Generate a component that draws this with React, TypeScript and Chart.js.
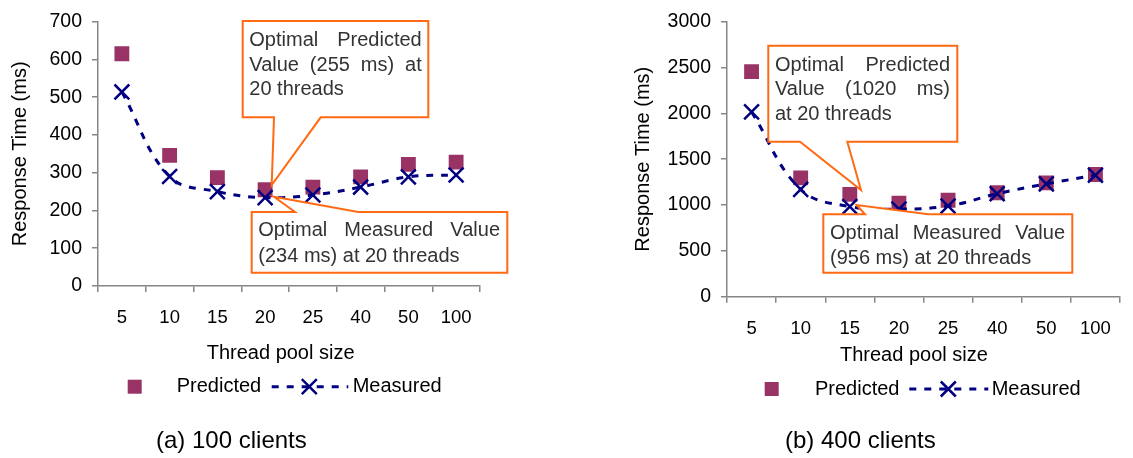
import React, { useEffect, useRef } from 'react';
import { Chart, registerables } from 'chart.js';

Chart.register(...registerables);

// ---------------- data ----------------
const categories = ['5', '10', '15', '20', '25', '40', '50', '100'];
const predicted100 = [615, 346, 287, 255, 262, 289, 322, 328];
const measured100 = [514, 290, 250, 234, 241, 262, 289, 294];
const predicted400 = [2456, 1296, 1117, 1020, 1052, 1134, 1242, 1333];
const measured400 = [2016, 1171, 983, 956, 990, 1123, 1231, 1325];
const yMax100 = 700;
const yStep100 = 100;
const yMax400 = 3000;
const yStep400 = 500;
const seriesNames = ['Predicted', 'Measured'];
const xTitle = 'Thread pool size';
const yTitle = 'Response Time (ms)';
const caption100 = '(a) 100 clients';
const caption400 = '(b) 400 clients';
const callout100Predicted = ['Optimal Predicted', 'Value (255 ms) at', '20 threads'];
const callout100Measured = ['Optimal Measured Value', '(234 ms) at 20 threads'];
const callout400Predicted = ['Optimal Predicted', 'Value (1020 ms)', 'at 20 threads'];
const callout400Measured = ['Optimal Measured Value', '(956 ms) at 20 threads'];

// ---------------- style ----------------
const FONT = '"Liberation Sans", Arial, Helvetica, sans-serif';
const PLUM = '#993366';
const NAVY = '#000080';
const ORANGE = '#FF6A13';
const AXIS = '#868686';
const W = 1133;
const H = 458;

type Callout = {
  lines: string[];
  box: [number, number, number, number];
  side: 'top' | 'bottom';
  base: [number, number];
  tip: [number, number];
  textLeft: number;
  textRight: number;
  lineY: number[];
};

type Panel = {
  offsetX: number;
  width: number;
  area: { left: number; right: number; top: number; bottom: number };
  yMax: number;
  yStep: number;
  predicted: number[];
  measured: number[];
  yTitleX: number;
  xTitleX: number;
  xTitleY: number;
  legend: { squareX: number; predX: number; dashL: number; dashR: number; crossX: number; measX: number; y: number };
  captionX: number;
  captionY: number;
  caption: string;
  callouts: Callout[];
};

const panels: Panel[] = [
  {
    offsetX: 0,
    width: 566,
    area: { left: 98, right: 480, top: 19, bottom: 286 },
    yMax: yMax100,
    yStep: yStep100,
    predicted: predicted100,
    measured: measured100,
    yTitleX: 20,
    xTitleX: 206.7,
    xTitleY: 353,
    legend: { squareX: 134.7, predX: 176.7, dashL: 271.7, dashR: 348.3, crossX: 309.3, measX: 352.7, y: 386.7 },
    captionX: 156,
    captionY: 441.7,
    caption: caption100,
    callouts: [
      {
        lines: callout100Predicted,
        box: [242.7, 21, 428.3, 117.3],
        side: 'bottom',
        base: [274, 320.7],
        tip: [271.7, 185],
        textLeft: 249.3,
        textRight: 421.7,
        lineY: [40, 65, 89.3],
      },
      {
        lines: callout100Measured,
        box: [251.7, 212, 507.3, 272.7],
        side: 'top',
        base: [295, 358.3],
        tip: [274, 196.7],
        textLeft: 258.3,
        textRight: 500,
        lineY: [230.7, 256],
      },
    ],
  },
  {
    offsetX: 566,
    width: 567,
    area: { left: 727, right: 1125, top: 19, bottom: 296.7 },
    yMax: yMax400,
    yStep: yStep400,
    predicted: predicted400,
    measured: measured400,
    yTitleX: 643.3,
    xTitleX: 840,
    xTitleY: 355.7,
    legend: { squareX: 771.7, predX: 815, dashL: 909.3, dashR: 988.3, crossX: 948.3, measX: 991.7, y: 389 },
    captionX: 785,
    captionY: 441.7,
    caption: caption400,
    callouts: [
      {
        lines: callout400Predicted,
        box: [768.3, 45.7, 957.3, 141.7],
        side: 'bottom',
        base: [800, 847.3],
        tip: [861, 190],
        textLeft: 775,
        textRight: 950,
        lineY: [65, 89.3, 114],
      },
      {
        lines: callout400Measured,
        box: [823.3, 214.3, 1072.3, 272.7],
        side: 'top',
        base: [865, 928.3],
        tip: [856.7, 205],
        textLeft: 830,
        textRight: 1065,
        lineY: [233.3, 258.3],
      },
    ],
  },
];

function drawCallout(ctx: CanvasRenderingContext2D, c: Callout, dx: number) {
  const [x1, y1, x2, y2] = [c.box[0] - dx, c.box[1], c.box[2] - dx, c.box[3]];
  const b1 = c.base[0] - dx;
  const b2 = c.base[1] - dx;
  const tx = c.tip[0] - dx;
  const ty = c.tip[1];
  ctx.save();
  ctx.beginPath();
  if (c.side === 'bottom') {
    ctx.moveTo(x1, y1);
    ctx.lineTo(x2, y1);
    ctx.lineTo(x2, y2);
    ctx.lineTo(b2, y2);
    ctx.lineTo(tx, ty);
    ctx.lineTo(b1, y2);
    ctx.lineTo(x1, y2);
  } else {
    ctx.moveTo(x1, y1);
    ctx.lineTo(b1, y1);
    ctx.lineTo(tx, ty);
    ctx.lineTo(b2, y1);
    ctx.lineTo(x2, y1);
    ctx.lineTo(x2, y2);
    ctx.lineTo(x1, y2);
  }
  ctx.closePath();
  ctx.fillStyle = '#ffffff';
  ctx.fill();
  ctx.strokeStyle = ORANGE;
  ctx.lineWidth = 2;
  ctx.lineJoin = 'miter';
  ctx.stroke();

  ctx.font = `20px ${FONT}`;
  ctx.fillStyle = '#333333';
  ctx.textBaseline = 'middle';
  ctx.textAlign = 'left';
  const left = c.textLeft - dx;
  const right = c.textRight - dx;
  c.lines.forEach((line, i) => {
    const y = c.lineY[i];
    const words = line.split(' ');
    const isLast = i === c.lines.length - 1;
    if (isLast || words.length < 2) {
      ctx.fillText(line, left, y);
      return;
    }
    const widths = words.map((w) => ctx.measureText(w).width);
    const total = widths.reduce((a, b) => a + b, 0);
    const gap = (right - left - total) / (words.length - 1);
    let x = left;
    words.forEach((w, k) => {
      ctx.fillText(w, x, y);
      x += widths[k] + gap;
    });
  });
  ctx.restore();
}

function makeOverlay(p: Panel) {
  return {
    id: 'overlay',
    afterDraw(chart: any) {
      const ctx: CanvasRenderingContext2D = chart.ctx;
      const dx = p.offsetX;
      p.callouts.forEach((c) => drawCallout(ctx, c, dx));

      ctx.save();
      ctx.fillStyle = '#000000';
      ctx.textBaseline = 'middle';
      ctx.textAlign = 'left';
      ctx.font = `20px ${FONT}`;
      ctx.fillText(xTitle, p.xTitleX - dx, p.xTitleY);

      // legend
      const L = p.legend;
      ctx.fillStyle = PLUM;
      ctx.fillRect(L.squareX - dx - 7, L.y - 7, 14, 14);
      ctx.fillStyle = '#000000';
      ctx.fillText(seriesNames[0], L.predX - dx, L.y);
      ctx.fillText(seriesNames[1], L.measX - dx, L.y);
      ctx.strokeStyle = NAVY;
      ctx.lineWidth = 3;
      ctx.setLineDash([7, 8]);
      ctx.beginPath();
      ctx.moveTo(L.dashL - dx, L.y);
      ctx.lineTo(L.dashR - dx, L.y);
      ctx.stroke();
      ctx.setLineDash([]);
      ctx.lineWidth = 2.5;
      const cx = L.crossX - dx;
      const s = 7.5;
      ctx.beginPath();
      ctx.moveTo(cx - s, L.y - s);
      ctx.lineTo(cx + s, L.y + s);
      ctx.moveTo(cx + s, L.y - s);
      ctx.lineTo(cx - s, L.y + s);
      ctx.stroke();

      // caption
      ctx.fillStyle = '#000000';
      ctx.font = `24px ${FONT}`;
      ctx.fillText(p.caption, p.captionX - dx, p.captionY);
      ctx.restore();
    },
  };
}

function PanelChart({ p }: { p: Panel }) {
  const ref = useRef<HTMLCanvasElement | null>(null);
  useEffect(() => {
    if (!ref.current) return;
    const a = p.area;
    const localLeft = a.left - p.offsetX;
    const localRight = a.right - p.offsetX;
    const xAxisH = 40;
    const chart = new Chart(ref.current, {
      type: 'line',
      data: {
        labels: categories,
        datasets: [
          {
            label: seriesNames[0],
            data: p.predicted,
            showLine: false,
            pointStyle: 'rect',
            pointRadius: 10.5,
            pointBackgroundColor: PLUM,
            pointBorderColor: PLUM,
            pointBorderWidth: 0,
            backgroundColor: PLUM,
            borderColor: PLUM,
            order: 1,
          },
          {
            label: seriesNames[1],
            data: p.measured,
            borderColor: NAVY,
            borderWidth: 3,
            borderDash: [7, 8],
            tension: 0.4,
            fill: false,
            pointStyle: 'crossRot',
            pointRadius: 10.5,
            pointBorderWidth: 2.5,
            pointBorderColor: NAVY,
            pointBackgroundColor: NAVY,
            order: 0,
          },
        ],
      },
      options: {
        responsive: false,
        animation: false,
        devicePixelRatio: 1,
        layout: {
          padding: {
            left: 0,
            top: a.top,
            right: p.width - localRight,
            bottom: H - a.bottom - xAxisH,
          },
        },
        plugins: {
          legend: { display: false },
          tooltip: { enabled: false },
          title: { display: false },
        },
        scales: {
          x: {
            type: 'category',
            offset: true,
            grid: {
              offset: true,
              drawOnChartArea: false,
              drawTicks: true,
              tickLength: 6,
              color: AXIS,
              lineWidth: 1.5,
            },
            border: { color: AXIS, width: 1.5 },
            ticks: {
              color: '#000000',
              font: { family: FONT, size: 18.5 },
              padding: 15,
              maxRotation: 0,
              autoSkip: false,
            },
            afterFit: (scale: any) => {
              scale.height = xAxisH;
            },
          },
          y: {
            min: 0,
            max: p.yMax,
            ticks: {
              stepSize: p.yStep,
              color: '#000000',
              font: { family: FONT, size: 19.5 },
              padding: 10,
              callback: (v: any) => String(v),
            },
            grid: {
              drawOnChartArea: false,
              drawTicks: true,
              tickLength: 6,
              color: AXIS,
              lineWidth: 1.5,
            },
            border: { color: AXIS, width: 1.5 },
            title: {
              display: true,
              text: yTitle,
              color: '#000000',
              font: { family: FONT, size: 20 },
              padding: { top: p.yTitleX - p.offsetX - 12, bottom: 0 },
            },
            afterFit: (scale: any) => {
              scale.width = localLeft;
            },
          },
        },
      },
      plugins: [makeOverlay(p)],
    } as any);
    return () => chart.destroy();
  }, [p]);
  return (
    <canvas
      ref={ref}
      width={p.width}
      height={H}
      style={{ position: 'absolute', left: p.offsetX, top: 0, width: p.width, height: H }}
    />
  );
}

export default function App() {
  return (
    <div style={{ position: 'fixed', left: 0, top: 0, width: W, height: H, background: '#ffffff', overflow: 'hidden' }}>
      {panels.map((p, i) => (
        <PanelChart key={i} p={p} />
      ))}
    </div>
  );
}
